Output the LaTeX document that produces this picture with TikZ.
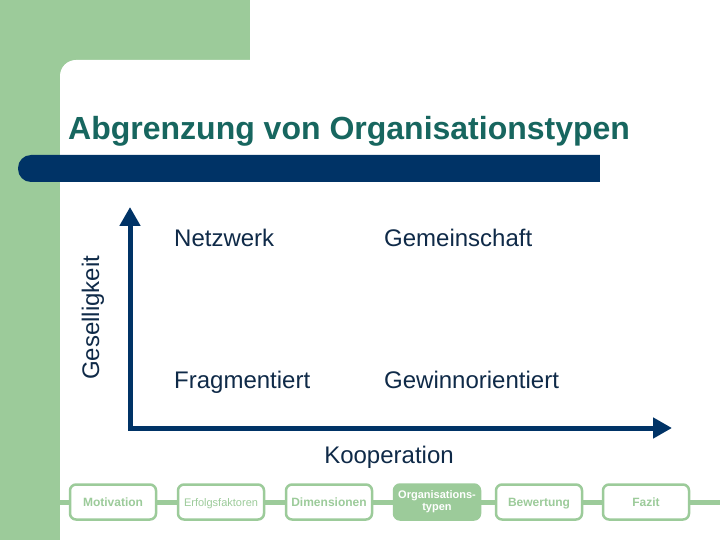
\documentclass[tikz,border=0pt]{standalone}
\usepackage{fontspec}
\setmainfont{Liberation Sans}
\usetikzlibrary{arrows.meta}
\definecolor{lgreen}{HTML}{9CCB9A}
\definecolor{navy}{HTML}{003366}
\definecolor{teal}{HTML}{17665F}
\definecolor{txtblue}{HTML}{0F2A48}
\begin{document}
\begin{tikzpicture}[x=1pt,y=-1pt,
  lbl/.style={inner sep=0pt,anchor=base west,text=txtblue,font=\fontsize{24}{28}\selectfont},
  navbox/.style={draw=lgreen,line width=2.5pt,fill=white,rounded corners=6pt,minimum width=86pt,minimum height=35pt,inner sep=0pt,text=lgreen,align=center},
  navfont/.style={font=\bfseries\fontsize{12}{12}\selectfont,text height=8.5pt,text depth=0pt},
  axis/.style={draw=navy,line width=5pt,line join=miter,{Triangle[length=19pt,width=20pt]}-{Triangle[length=19pt,width=20pt]}}
]
\useasboundingbox (0,0) rectangle (720,540);
% background
\fill[lgreen] (0,0) rectangle (250,80);
\fill[lgreen] (0,0) rectangle (60,540);
\fill[white,rounded corners=16pt] (60,60) rectangle (740,560);
% title
\node[inner sep=0pt,anchor=base west,text=teal,font=\bfseries\fontsize{32}{36}\selectfont] (title) at (68,140) {Abgrenzung von Organisationstypen};
\fill[navy,rounded corners=13pt] (18,155) rectangle (614,182);
\fill[navy] (590,155) rectangle (600,182);
\fill[white] (600,150) rectangle (620,190);
% axes
\coordinate (orig) at (130,428);
\coordinate (ytip) at (130,207);
\coordinate (xtip) at (672,428);
\draw[axis] (ytip) -- (orig) -- (xtip);
\node[lbl,rotate=90] (ges) at (99,380) {Geselligkeit};
\node[lbl] (netz) at (174,247) {Netzwerk};
\node[lbl] (gem) at (384,247) {Gemeinschaft};
\node[lbl] (frag) at (174,388) {Fragmentiert};
\node[lbl] (gew) at (384,388) {Gewinnorientiert};
\node[lbl,anchor=base] (koop) at (389,463) {Kooperation};
% navigation
\coordinate (navL) at (60,502);
\coordinate (navR) at (720,502);
\draw[lgreen,line width=5pt] (navL) -- (navR);
\node[navbox,navfont] (n1) at (113,502) {Motivation};
\node[navbox,font=\fontsize{11}{11}\selectfont,text height=8pt,text depth=0pt] (n2) at (221,502) {Erfolgsfaktoren};
\node[navbox,navfont] (n3) at (329,502) {Dimensionen};
\node[navbox,fill=lgreen,text=white,font=\bfseries\fontsize{11}{12}\selectfont] (n4) at (437,502) {Organisations-\\typen};
\node[navbox,navfont] (n5) at (539,502) {Bewertung};
\node[navbox,navfont] (n6) at (646,502) {Fazit};
\end{tikzpicture}
\end{document}
